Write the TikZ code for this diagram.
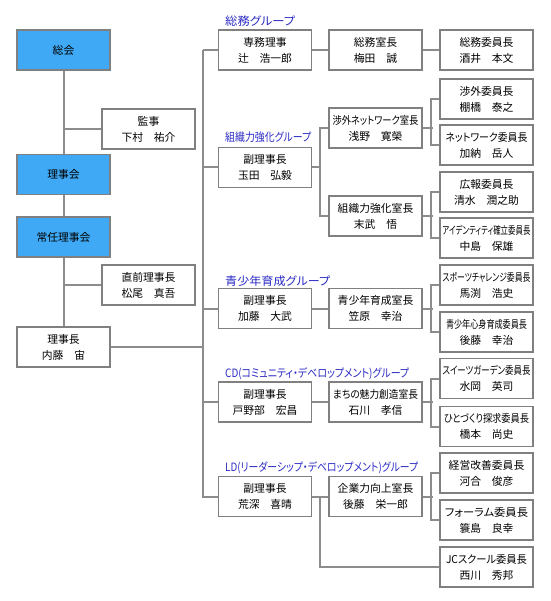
\documentclass[tikz,border=0pt]{standalone}
\usepackage{fontspec}
\usepackage{graphicx}
\newfontfamily\jp{Noto Sans CJK JP}
\newfontfamily\jpp[RawFeature=+palt]{Noto Sans CJK JP}
\definecolor{topblue}{HTML}{3FA9F5}
\definecolor{linegray}{HTML}{8C8C8C}
\definecolor{bordergray}{HTML}{808080}
\definecolor{labelblue}{HTML}{2A2AC4}
\newcommand\fw[2]{\resizebox{#1pt}{\height}{#2}}
\tikzset{
  box/.style={draw=bordergray, line width=1.1pt, fill=white, minimum width=93pt,
    minimum height=40pt, inner sep=0pt, align=center,
    font=\jp\fontsize{10.8}{16}\selectfont},
  bluebox/.style={box, fill=topblue},
  ln/.style={draw=linegray, line width=2pt},
  glabel/.style={anchor=west, text=labelblue, inner sep=0pt,
    font=\jpp\fontsize{11.5}{13}\selectfont}
}
\begin{document}
\begin{tikzpicture}[x=1pt,y=-1pt]
\useasboundingbox (0,0) rectangle (550,601);
% left column
\node[bluebox] (sokai) at (63.5,50) {総会};
\node[box] (kanji) at (148.5,129) {監事\\下村　祐介};
\node[bluebox] (rijikai) at (63.5,174.5) {理事会};
\node[bluebox] (jonin) at (63.5,237) {常任理事会};
\node[box] (chokuzen) at (148.5,285) {直前理事長\\松尾　真吾};
\node[box] (rijicho) at (63.5,347) {理事長\\内藤　宙};
% group labels
\node[glabel] (l1) at (225,21) {\fw{70}{総務グループ}};
\node[glabel] (l2) at (225,137) {\fw{86}{組織力強化グループ}};
\node[glabel] (l3) at (225,281) {\fw{105}{青少年育成グループ}};
\node[glabel] (l4) at (225,374) {\fw{184}{CD(コミュニティ・デベロップメント)グループ}};
\node[glabel] (l5) at (225,468) {\fw{193}{LD(リーダーシップ・デベロップメント)グループ}};
% column 2
\node[box] (senmu) at (265,50) {専務理事\\辻　浩一郎};
\node[box] (tamada) at (265,167.5) {副理事長\\玉田　弘毅};
\node[box] (kato) at (265,308.5) {副理事長\\加藤　大武};
\node[box] (tonobe) at (265,402) {副理事長\\戸野部　宏昌};
\node[box] (arafuka) at (265,496.5) {副理事長\\荒深　喜晴};
% column 3
\node[box] (somuR) at (375.5,50) {総務室長\\梅田　誠};
\node[box] (nwR) at (375.5,128) {{\jpp\fw{86}{渉外ネットワーク室長}}\\浅野　寛榮};
\node[box] (soshikiR) at (375.5,216) {組織力強化室長\\末武　悟};
\node[box] (seiR) at (375.5,308.5) {青少年育成室長\\笠原　幸治};
\node[box] (machiR) at (375.5,402) {{\jpp\fw{85}{まちの魅力創造室長}}\\石川　孝信};
\node[box] (kigyoR) at (375.5,496.5) {企業力向上室長\\後藤　栄一郎};
% column 4
\node[box] (somuC) at (486.5,50) {総務委員長\\酒井　本文};
\node[box] (shogaiC) at (486.5,99) {渉外委員長\\棚橋　泰之};
\node[box] (nwC) at (486.5,145) {{\jpp\fw{82}{ネットワーク委員長}}\\加納　岳人};
\node[box] (kohoC) at (486.5,192) {広報委員長\\清水　潤之助};
\node[box] (idC) at (486.5,238) {{\jpp\fw{88}{アイデンティティ確立委員長}}\\中島　保雄};
\node[box] (sportsC) at (486.5,285) {{\jpp\fw{88}{スポーツチャレンジ委員長}}\\馬渕　浩史};
\node[box] (shinC) at (486.5,332) {{\jpp\fw{81}{青少年心身育成委員長}}\\後藤　幸治};
\node[box] (sweetsC) at (486.5,378.5) {{\jpp\fw{88}{スイーツガーデン委員長}}\\水岡　英司};
\node[box] (hitoC) at (486.5,426.5) {{\jpp\fw{85}{ひとづくり探求委員長}}\\橋本　尚史};
\node[box] (keieiC) at (486.5,473) {経営改善委員長\\河合　俊彦};
\node[box] (forumC) at (486.5,520) {{\jpp\fw{83}{フォーラム委員長}}\\簑島　良幸};
\node[box] (jcC) at (486.5,567) {{\jpp\fw{81}{JCスクール委員長}}\\西川　秀邦};
% left connectors
\draw[ln] (sokai.south) -- (rijikai.north);
\draw[ln] (rijikai.south) -- (jonin.north);
\draw[ln] (jonin.south) -- (rijicho.north);
\draw[ln] (kanji.west) -- (kanji.west -| sokai.south);
\draw[ln] (chokuzen.west) -- (chokuzen.west -| sokai.south);
% main trunk
\draw[ln] (senmu.west) -- ++(-15,0) coordinate (mtop);
\draw[ln] (mtop) -- (mtop |- arafuka.west) -- (arafuka.west);
\draw[ln] (tamada.west) -- (tamada.west -| mtop);
\draw[ln] (kato.west) -- (kato.west -| mtop);
\draw[ln] (tonobe.west) -- (tonobe.west -| mtop);
\draw[ln] (rijicho.east) -- (rijicho.east -| mtop);
% group 1
\draw[ln] (senmu.east) -- (somuR.west);
\draw[ln] (somuR.east) -- (somuC.west);
% group 2
\draw[ln] (nwR.west) -- ++(-8,0) |- (soshikiR.west);
\draw[ln] (tamada.east) -- ++(9,0);
\draw[ln] (shogaiC.west) -- ++(-8,0) |- (nwC.west);
\draw[ln] (nwR.east) -- ++(10,0);
\draw[ln] (kohoC.west) -- ++(-8,0) |- (idC.west);
\draw[ln] (soshikiR.east) -- ++(10,0);
% group 3
\draw[ln] (kato.east) -- (seiR.west);
\draw[ln] (sportsC.west) -- ++(-8,0) |- (shinC.west);
\draw[ln] (seiR.east) -- ++(10,0);
% group 4
\draw[ln] (tonobe.east) -- (machiR.west);
\draw[ln] (sweetsC.west) -- ++(-8,0) |- (hitoC.west);
\draw[ln] (machiR.east) -- ++(10,0);
% group 5
\draw[ln] (arafuka.east) -- (kigyoR.west);
\draw[ln] ([xshift=8pt]arafuka.east) |- (jcC.west);
\draw[ln] (keieiC.west) -- ++(-8,0) |- (forumC.west);
\draw[ln] (kigyoR.east) -- ++(10,0);
\end{tikzpicture}
\end{document}
